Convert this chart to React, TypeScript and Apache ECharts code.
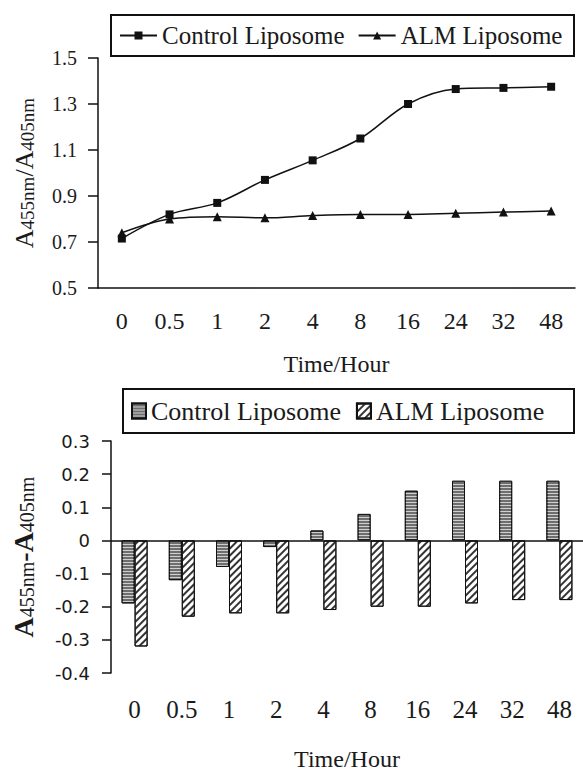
import React, { useEffect, useRef } from "react";
import * as echarts from "echarts";

const categories = ["0", "0.5", "1", "2", "4", "8", "16", "24", "32", "48"];
const seriesNames = ["Control Liposome", "ALM Liposome"];
const ratioControl = [0.715, 0.82, 0.87, 0.97, 1.055, 1.15, 1.3, 1.365, 1.37, 1.375];
const ratioALM = [0.74, 0.8, 0.81, 0.805, 0.815, 0.82, 0.82, 0.825, 0.83, 0.835];
const diffControl = [-0.19, -0.12, -0.08, -0.02, 0.03, 0.08, 0.15, 0.18, 0.18, 0.18];
const diffALM = [-0.32, -0.23, -0.22, -0.22, -0.21, -0.2, -0.2, -0.19, -0.18, -0.18];
const ratioAxis = { min: 0.5, max: 1.5, interval: 0.2 };
const diffAxis = { min: -0.4, max: 0.3, interval: 0.1 };
const xTitle = "Time/Hour";

const SERIF = "'Liberation Serif', 'Times New Roman', serif";
const SANS = "'DejaVu Sans', sans-serif";
const INK = "#111";
const TXT = "#1a1a1a";

const topOption: any = {
  animation: false,
  textStyle: { fontFamily: SERIF },
  grid: { left: 98, top: 58, width: 477, height: 230 },
  graphic: [
    {
      type: "rect",
      shape: { x: 111, y: 15, width: 463, height: 41 },
      style: { fill: "none", stroke: INK, lineWidth: 2 },
    },
  ],
  legend: {
    left: 119,
    top: 23,
    padding: 0,
    itemWidth: 37,
    itemHeight: 10,
    itemGap: 13,
    data: seriesNames,
    textStyle: { fontFamily: SERIF, fontSize: 25, color: TXT },
  },
  xAxis: {
    type: "category",
    data: categories,
    boundaryGap: true,
    axisLine: { lineStyle: { color: INK, width: 1.5 } },
    axisTick: { show: false },
    axisLabel: { fontFamily: SERIF, fontSize: 24, color: TXT, margin: 21 },
    name: xTitle,
    nameLocation: "middle",
    nameGap: 64,
    nameTextStyle: { fontFamily: SERIF, fontSize: 24, color: TXT },
  },
  yAxis: {
    type: "value",
    min: ratioAxis.min,
    max: ratioAxis.max,
    interval: ratioAxis.interval,
    axisLine: { show: true, lineStyle: { color: INK, width: 1.5 } },
    axisTick: { show: true, length: 10, lineStyle: { color: INK, width: 1.5 } },
    splitLine: { show: false },
    axisLabel: { fontFamily: SERIF, fontSize: 20, color: TXT, margin: 21 },
    name: "{a|A}{s|455nm}{a|/A}{s|405nm}",
    nameLocation: "middle",
    nameGap: 61,
    nameTextStyle: {
      color: TXT,
      rich: {
        a: { fontFamily: SERIF, fontSize: 26, color: TXT, verticalAlign: "bottom", lineHeight: 28 },
        s: { fontFamily: SERIF, fontSize: 19, color: TXT, verticalAlign: "bottom", lineHeight: 28 },
      },
    },
  },
  series: [
    {
      name: seriesNames[0],
      type: "line",
      data: ratioControl,
      smooth: 0.35,
      symbol: "rect",
      symbolSize: 8,
      lineStyle: { color: INK, width: 1.5 },
      itemStyle: { color: INK },
    },
    {
      name: seriesNames[1],
      type: "line",
      data: ratioALM,
      smooth: 0.35,
      symbol: "triangle",
      symbolSize: 9,
      lineStyle: { color: INK, width: 1.5 },
      itemStyle: { color: INK },
    },
  ],
};

const bottomOption: any = {
  animation: false,
  textStyle: { fontFamily: SERIF },
  grid: { left: 111, top: 53, width: 477, height: 238.5 },
  graphic: [
    {
      type: "rect",
      shape: { x: 123, y: 1, width: 451, height: 44 },
      style: { fill: "none", stroke: INK, lineWidth: 2 },
    },
  ],
  legend: {
    left: 131,
    top: 10,
    padding: 0,
    icon: "rect",
    itemWidth: 14,
    itemHeight: 15,
    itemGap: 15,
    data: seriesNames,
    textStyle: { fontFamily: SERIF, fontSize: 26, color: TXT },
  },
  xAxis: {
    type: "category",
    data: categories,
    boundaryGap: true,
    axisLine: { show: false, onZero: false },
    axisTick: { show: false },
    axisLabel: { fontFamily: SERIF, fontSize: 25, color: TXT, margin: 24 },
    name: xTitle,
    nameLocation: "middle",
    nameGap: 74,
    nameTextStyle: { fontFamily: SERIF, fontSize: 24, color: TXT },
  },
  yAxis: {
    type: "value",
    min: diffAxis.min,
    max: diffAxis.max,
    interval: diffAxis.interval,
    axisLine: { show: true, lineStyle: { color: INK, width: 1.5 } },
    axisTick: { show: true, length: 9, lineStyle: { color: INK, width: 1.5 } },
    splitLine: { show: false },
    axisLabel: { fontFamily: SANS, fontSize: 18, color: TXT, margin: 21 },
    name: "{a|A}{s|455nm}{a|-A}{s|405nm}",
    nameLocation: "middle",
    nameGap: 74,
    nameTextStyle: {
      color: TXT,
      rich: {
        a: { fontFamily: SERIF, fontSize: 28, fontWeight: "bold", color: TXT, verticalAlign: "bottom", lineHeight: 30 },
        s: { fontFamily: SERIF, fontSize: 20, color: TXT, verticalAlign: "bottom", lineHeight: 30 },
      },
    },
  },
  series: [
    {
      name: seriesNames[0],
      type: "bar",
      data: diffControl,
      barWidth: 13,
      barGap: "0%",
      itemStyle: {
        color: "#6e6e6e",
        borderColor: INK,
        borderWidth: 1,
        decal: {
          symbol: "rect",
          symbolSize: 1,
          color: "#cfcfcf",
          dashArrayX: [1, 0],
          dashArrayY: [1, 2],
          rotation: 0,
        },
      },
      markLine: {
        silent: true,
        symbol: "none",
        label: { show: false },
        lineStyle: { color: INK, width: 1.5, type: "solid" },
        data: [{ yAxis: 0 }],
      },
    },
    {
      name: seriesNames[1],
      type: "bar",
      data: diffALM,
      barWidth: 13,
      barGap: "0%",
      itemStyle: {
        color: "#ffffff",
        borderColor: INK,
        borderWidth: 1,
        decal: {
          symbol: "rect",
          symbolSize: 1,
          color: "#333",
          dashArrayX: [1, 0],
          dashArrayY: [1.5, 2.5],
          rotation: -Math.PI / 4,
        },
      },
    },
  ],
};

export default function App() {
  const topRef = useRef<HTMLDivElement>(null);
  const botRef = useRef<HTMLDivElement>(null);
  useEffect(() => {
    const c1 = echarts.init(topRef.current as HTMLDivElement, null, { renderer: "svg" });
    c1.setOption(topOption);
    const c2 = echarts.init(botRef.current as HTMLDivElement, null, { renderer: "svg" });
    c2.setOption(bottomOption);
    return () => {
      c1.dispose();
      c2.dispose();
    };
  }, []);
  return (
    <div style={{ position: "absolute", left: 0, top: 0, width: 583, height: 776, background: "#fff", overflow: "hidden" }}>
      <div ref={topRef} style={{ position: "absolute", left: 0, top: 0, width: 583, height: 388 }} />
      <div ref={botRef} style={{ position: "absolute", left: 0, top: 388, width: 583, height: 388 }} />
    </div>
  );
}
